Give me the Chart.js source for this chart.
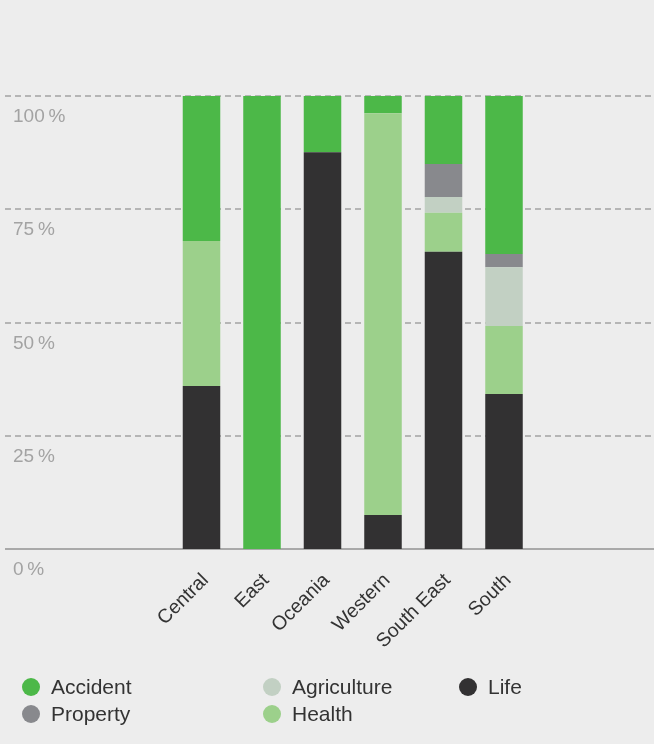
<!DOCTYPE html>
<html>
<head>
<meta charset="utf-8">
<script src="https://cdn.jsdelivr.net/npm/chart.js@4.4.1/dist/chart.umd.min.js"></script>
<style>
  body { margin: 0; background: #ededed; }
  #wrap { position: relative; width: 654px; height: 744px; }
  #legend {
    position: absolute; left: 22px; top: 676px;
    display: grid; grid-template-columns: 241px 196px auto; row-gap: 5px;
    font-family: "Liberation Sans", Arial, sans-serif; font-size: 21px; color: #333;
  }
  .item { display: flex; align-items: center; height: 22px; }
  .dot { width: 18px; height: 18px; border-radius: 50%; margin-right: 11px; }
</style>
</head>
<body>
<div id="wrap">
  <canvas id="chart" width="654" height="744"></canvas>
  <div id="legend"></div>
</div>
<script>
const regions = ['Central', 'East', 'Oceania', 'Western', 'South East', 'South'];
const life        = [36.0,   0, 87.6,  7.5, 65.6, 34.2];
const health      = [32.0,   0,    0, 88.7,  8.6, 15.0];
const agriculture = [   0,   0,    0,    0,  3.5, 13.0];
const property    = [   0,   0,    0,    0,  7.3,  2.9];
const accident    = [32.0, 100, 12.4,  3.8, 15.0, 34.9];
const yTicks = [0, 25, 50, 75, 100];
const legendOrder = ['Accident', 'Agriculture', 'Life', 'Property', 'Health'];

const datasets = [
  { label: 'Life', data: life, backgroundColor: '#323132' },
  { label: 'Health', data: health, backgroundColor: '#9cd08b' },
  { label: 'Agriculture', data: agriculture, backgroundColor: '#c2d0c3' },
  { label: 'Property', data: property, backgroundColor: '#88898d' },
  { label: 'Accident', data: accident, backgroundColor: '#4cb848' }
];

// full-width grid lines
const gridPlugin = {
  id: 'fullGrid',
  beforeDatasetsDraw(chart) {
    const ctx = chart.ctx;
    const y = chart.scales.y;
    ctx.save();
    y.ticks.forEach(t => {
      const py = Math.round(y.getPixelForValue(t.value));
      ctx.beginPath();
      if (t.value === 0) {
        ctx.setLineDash([]);
        ctx.strokeStyle = '#a9a9a9';
        ctx.lineWidth = 2;
      } else {
        ctx.setLineDash([6, 4]);
        ctx.strokeStyle = '#a3a3a3';
        ctx.lineWidth = 1.5;
      }
      ctx.moveTo(5, py);
      ctx.lineTo(chart.width, py);
      ctx.stroke();
    });
    ctx.restore();
  }
};

const chart = new Chart(document.getElementById('chart'), {
  type: 'bar',
  data: { labels: regions, datasets: datasets },
  options: {
    responsive: false,
    animation: false,
    layout: { padding: { left: 13, right: 119.75, top: 96, bottom: 0 } },
    plugins: { legend: { display: false }, tooltip: { enabled: false } },
    datasets: { bar: { categoryPercentage: 1, barPercentage: 0.62 } },
    scales: {
      x: {
        stacked: true,
        grid: { display: false },
        border: { display: false },
        ticks: {
          color: '#333',
          font: { family: '"Liberation Sans", Arial, sans-serif', size: 19.5 },
          minRotation: 45, maxRotation: 45, padding: 12, labelOffset: 4
        },
        afterFit(scale) { scale.height = 195; }
      },
      y: {
        stacked: true,
        min: 0, max: 100,
        afterBuildTicks(scale) { scale.ticks = yTicks.map(v => ({ value: v })); },
        grid: { display: false },
        border: { display: false },
        ticks: {
          color: '#a3a3a3',
          crossAlign: 'far',
          labelOffset: 21,
          font: { family: '"Liberation Sans", Arial, sans-serif', size: 19 },
          callback: v => v + '\u2009%'
        },
        afterFit(scale) { scale.width = 158.25; }
      }
    }
  },
  plugins: [gridPlugin]
});

const legend = document.getElementById('legend');
legendOrder.forEach(name => {
  const ds = datasets.find(d => d.label === name);
  const item = document.createElement('div');
  item.className = 'item';
  item.innerHTML = '<span class="dot" style="background:' + ds.backgroundColor + '"></span>' + ds.label;
  legend.appendChild(item);
});
</script>
</body>
</html>
